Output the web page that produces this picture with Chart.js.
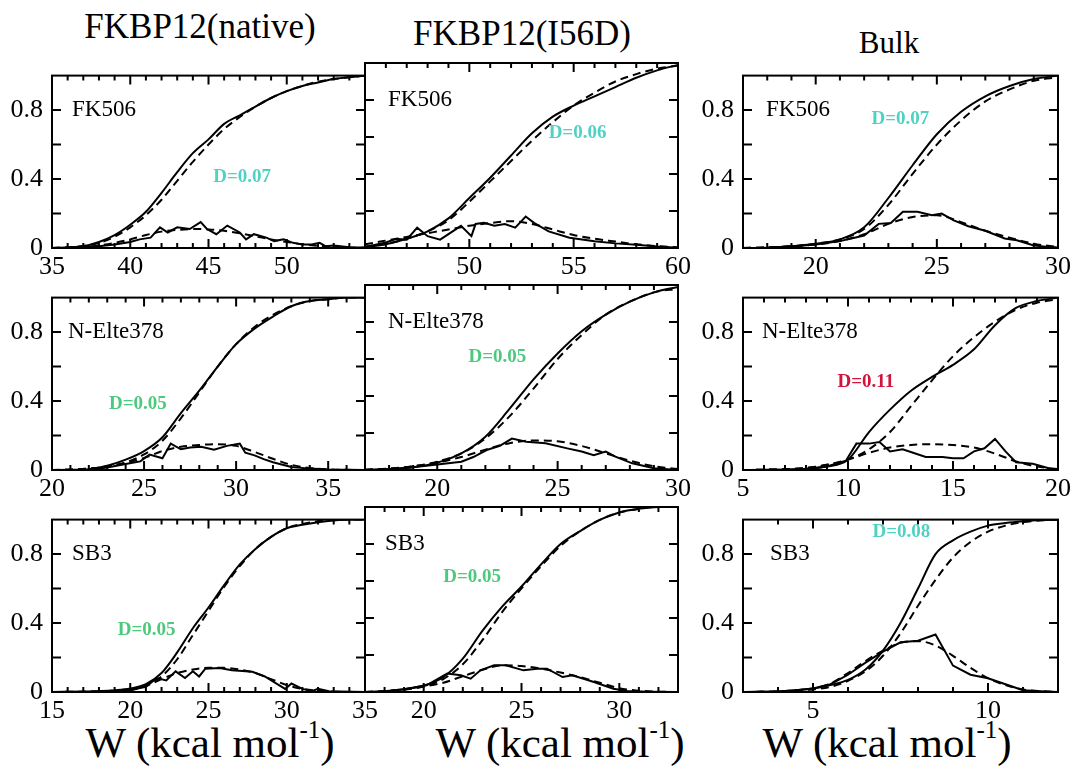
<!DOCTYPE html>
<html>
<head>
<meta charset="utf-8">
<script src="https://cdn.jsdelivr.net/npm/chart.js@4.4.0/dist/chart.umd.min.js"></script>
<style>
  body { margin: 0; width: 1070px; height: 769px; overflow: hidden; position: relative; background: #fff; }
  canvas { position: absolute; }
  .lbl { position: absolute; width: 400px; text-align: center; font-family: "Liberation Serif", "Times New Roman", serif; color: #000; white-space: nowrap; }
  .lbl sup { font-size: 58%; vertical-align: 0; position: relative; top: -0.75em; }
</style>
</head>
<body>
<div class="lbl" style="left:0px; top:9px; font-size:35px; line-height:35px;">FKBP12(native)</div>
<div class="lbl" style="left:322px; top:16px; font-size:35px; line-height:35px;">FKBP12(I56D)</div>
<div class="lbl" style="left:689px; top:27px; font-size:31px; line-height:31px;">Bulk</div>
<div class="lbl" style="left:10px; top:721px; font-size:43px; line-height:43px;">W (kcal mol<sup>-1</sup>)</div>
<div class="lbl" style="left:360px; top:721px; font-size:43px; line-height:43px;">W (kcal mol<sup>-1</sup>)</div>
<div class="lbl" style="left:687px; top:721px; font-size:43px; line-height:43px;">W (kcal mol<sup>-1</sup>)</div>
<script>
// --------------------------------------
// 1. Data
// --------------------------------------
// y axis labels shared by every panel
const yTickLabels = [0, 0.4, 0.8];

// FKBP12(native) - FK506
const natFkX = [35, 36, 37, 38, 39, 40, 41, 42, 43, 44, 45, 46, 47, 48, 49, 50, 51, 52, 53, 54, 55];
const natFkCdf = [0, 0.003, 0.01, 0.035, 0.075, 0.135, 0.21, 0.32, 0.44, 0.55, 0.63, 0.72, 0.77, 0.82, 0.87, 0.91, 0.94, 0.96, 0.98, 0.99, 1.0];
const natFkCdfFit = [0, 0.004, 0.012, 0.03, 0.065, 0.12, 0.19, 0.28, 0.39, 0.50, 0.60, 0.69, 0.76, 0.82, 0.87, 0.91, 0.94, 0.965, 0.98, 0.99, 1.0];
const natFkPdfFit = [0, 0.002, 0.005, 0.015, 0.03, 0.05, 0.075, 0.095, 0.105, 0.11, 0.108, 0.10, 0.085, 0.068, 0.05, 0.035, 0.022, 0.013, 0.007, 0.003, 0.001];
const natFkHistX = [35, 36, 37, 38, 39, 40, 40.6, 41.3, 41.9, 42.4, 43, 43.8, 44.5, 44.9, 45.5, 46.2, 47, 47.4, 47.9, 48.7, 49.2, 49.8, 50.4, 51, 51.6, 52.1, 52.5, 53, 54, 55];
const natFkHist = [0, 0.002, 0.005, 0.01, 0.02, 0.035, 0.05, 0.06, 0.12, 0.09, 0.12, 0.11, 0.15, 0.11, 0.08, 0.13, 0.09, 0.05, 0.08, 0.06, 0.04, 0.05, 0.03, 0.02, 0.02, 0.03, 0.01, 0.015, 0.005, 0.003];
const natFkTicks = [35, 40, 45, 50];

// FKBP12(I56D) - FK506
const mutFkX = [45, 46, 47, 48, 49, 50, 51, 52, 53, 54, 55, 56, 57, 58, 59, 60];
const mutFkCdf = [0.005, 0.02, 0.05, 0.09, 0.16, 0.27, 0.38, 0.50, 0.62, 0.71, 0.77, 0.82, 0.87, 0.92, 0.96, 0.99];
const mutFkCdfFit = [0.008, 0.022, 0.05, 0.09, 0.15, 0.25, 0.36, 0.47, 0.58, 0.68, 0.77, 0.84, 0.90, 0.94, 0.97, 0.985];
const mutFkPdfFit = [0.02, 0.04, 0.06, 0.08, 0.10, 0.12, 0.135, 0.145, 0.13, 0.10, 0.07, 0.05, 0.035, 0.02, 0.01, 0.004];
const mutFkHistX = [45, 46, 46.5, 47, 47.5, 48, 48.6, 49.6, 50.1, 50.3, 50.7, 51.2, 51.7, 52.2, 52.7, 53.1, 53.8, 54.8, 56, 57, 58, 59, 60];
const mutFkHist = [0.005, 0.03, 0.05, 0.045, 0.11, 0.064, 0.045, 0.12, 0.064, 0.13, 0.136, 0.12, 0.13, 0.11, 0.17, 0.136, 0.09, 0.055, 0.036, 0.025, 0.018, 0.008, 0.002];
const mutFkTicks = [50, 55, 60];

// Bulk - FK506
const bulkFkX = [17, 18, 19, 20, 21, 22, 23, 24, 25, 26, 27, 28, 29, 30];
const bulkFkCdf = [0, 0.002, 0.01, 0.025, 0.05, 0.12, 0.29, 0.48, 0.66, 0.79, 0.88, 0.94, 0.98, 1.0];
const bulkFkCdfFit = [0, 0.003, 0.01, 0.025, 0.05, 0.11, 0.25, 0.43, 0.60, 0.74, 0.85, 0.92, 0.97, 0.99];
const bulkFkPdfFit = [0, 0.003, 0.01, 0.02, 0.04, 0.08, 0.14, 0.18, 0.19, 0.15, 0.10, 0.06, 0.025, 0.005];
const bulkFkHistX = [17, 18, 19, 20, 21, 22, 22.6, 23.1, 23.6, 24.2, 24.8, 25.2, 25.7, 26.3, 27, 27.8, 28.3, 29, 29.5, 30];
const bulkFkHist = [0, 0.002, 0.008, 0.02, 0.04, 0.072, 0.14, 0.145, 0.21, 0.21, 0.19, 0.20, 0.16, 0.126, 0.10, 0.055, 0.045, 0.015, 0.008, 0.003];
const bulkFkTicks = [20, 25, 30];

// FKBP12(native) - N-Elte378
const natNeX = [20, 21, 22, 23, 24, 25, 26, 27, 28, 29, 30, 31, 32, 33, 34, 35, 36, 37];
const natNeCdf = [0, 0.001, 0.005, 0.025, 0.06, 0.11, 0.19, 0.33, 0.46, 0.60, 0.73, 0.82, 0.89, 0.95, 0.98, 0.99, 1.0, 1.0];
const natNeCdfFit = [0, 0.002, 0.008, 0.02, 0.045, 0.09, 0.17, 0.30, 0.45, 0.60, 0.73, 0.83, 0.90, 0.95, 0.98, 0.99, 1.0, 1.0];
const natNePdfFit = [0, 0.003, 0.008, 0.02, 0.04, 0.07, 0.11, 0.135, 0.145, 0.15, 0.14, 0.105, 0.065, 0.03, 0.012, 0.004, 0.001, 0];
const natNeHistX = [20, 22, 23, 24, 24.8, 25.3, 26, 26.45, 27, 27.5, 28.1, 28.8, 29.5, 30.2, 30.5, 31, 31.5, 32, 33, 34, 35, 37];
const natNeHist = [0, 0.002, 0.015, 0.035, 0.05, 0.09, 0.068, 0.153, 0.12, 0.13, 0.135, 0.117, 0.14, 0.153, 0.10, 0.085, 0.063, 0.045, 0.018, 0.008, 0.003, 0];
const natNeTicks = [20, 25, 30, 35];

// FKBP12(I56D) - N-Elte378
const mutNeX = [17, 18, 19, 20, 21, 22, 23, 24, 25, 26, 27, 28, 29, 30];
const mutNeCdf = [0, 0.005, 0.015, 0.04, 0.09, 0.18, 0.33, 0.49, 0.63, 0.75, 0.84, 0.91, 0.96, 0.99];
const mutNeCdfFit = [0.002, 0.007, 0.02, 0.045, 0.09, 0.17, 0.29, 0.44, 0.60, 0.73, 0.84, 0.91, 0.96, 0.98];
const mutNePdfFit = [0.002, 0.008, 0.02, 0.04, 0.07, 0.11, 0.145, 0.16, 0.155, 0.13, 0.09, 0.05, 0.02, 0.006];
const mutNeHistX = [17, 18, 19, 20, 21, 21.5, 22.05, 22.6, 23.1, 23.7, 24.5, 25.4, 26, 26.5, 27, 27.4, 28.1, 29, 30];
const mutNeHist = [0, 0.004, 0.015, 0.03, 0.045, 0.07, 0.108, 0.13, 0.17, 0.153, 0.144, 0.117, 0.10, 0.08, 0.10, 0.072, 0.036, 0.01, 0];
const mutNeTicks = [20, 25, 30];

// Bulk - N-Elte378
const bulkNeX = [5, 6, 7, 8, 9, 10, 11, 12, 13, 14, 15, 16, 17, 18, 19, 20];
const bulkNeCdf = [0, 0.001, 0.003, 0.007, 0.02, 0.06, 0.22, 0.35, 0.46, 0.54, 0.61, 0.70, 0.84, 0.94, 0.98, 1.0];
const bulkNeCdfFit = [0, 0.002, 0.005, 0.012, 0.03, 0.06, 0.12, 0.22, 0.37, 0.52, 0.66, 0.77, 0.86, 0.93, 0.97, 0.99];
const bulkNePdfFit = [0, 0.002, 0.005, 0.012, 0.03, 0.06, 0.10, 0.13, 0.145, 0.15, 0.145, 0.13, 0.095, 0.05, 0.02, 0.005];
const bulkNeHistX = [5, 7, 8, 9, 9.9, 10.4, 11, 11.5, 12, 12.6, 13.1, 13.7, 14.5, 15, 15.5, 16, 16.5, 17, 17.5, 18, 18.8, 19.6, 20];
const bulkNeHist = [0, 0.002, 0.006, 0.02, 0.054, 0.153, 0.153, 0.162, 0.108, 0.12, 0.10, 0.076, 0.076, 0.068, 0.068, 0.108, 0.126, 0.18, 0.108, 0.045, 0.036, 0.009, 0.003];
const bulkNeTicks = [5, 10, 15, 20];

// FKBP12(native) - SB3
const natSbX = [15, 16, 17, 18, 19, 20, 21, 22, 23, 24, 25, 26, 27, 28, 29, 30, 31, 32, 33, 34, 35];
const natSbCdf = [0, 0.001, 0.002, 0.005, 0.01, 0.02, 0.045, 0.11, 0.23, 0.37, 0.49, 0.62, 0.74, 0.83, 0.90, 0.95, 0.97, 0.985, 0.995, 1.0, 1.0];
const natSbCdfFit = [0, 0.001, 0.002, 0.003, 0.008, 0.018, 0.04, 0.09, 0.19, 0.33, 0.47, 0.61, 0.73, 0.83, 0.90, 0.95, 0.975, 0.99, 1.0, 1.0, 1.0];
const natSbPdfFit = [0, 0, 0.001, 0.002, 0.004, 0.01, 0.035, 0.075, 0.11, 0.13, 0.14, 0.14, 0.13, 0.11, 0.075, 0.04, 0.018, 0.007, 0.002, 0, 0];
const natSbHistX = [15, 19, 20, 21, 21.7, 22.3, 22.9, 23.5, 24, 24.4, 24.8, 25.7, 26.5, 27.8, 28.6, 29.5, 29.9, 30.3, 31, 31.6, 32, 32.7, 35];
const natSbHist = [0, 0.003, 0.012, 0.03, 0.081, 0.067, 0.12, 0.081, 0.12, 0.09, 0.135, 0.139, 0.126, 0.117, 0.09, 0.04, 0.018, 0.049, 0.018, 0.005, 0.018, 0.004, 0];
const natSbTicks = [15, 20, 25, 30, 35];

// FKBP12(I56D) - SB3
const mutSbX = [17, 18, 19, 20, 21, 22, 23, 24, 25, 26, 27, 28, 29, 30, 31, 32, 33];
const mutSbCdf = [0, 0.003, 0.015, 0.035, 0.08, 0.18, 0.33, 0.46, 0.57, 0.69, 0.80, 0.87, 0.93, 0.97, 0.99, 1.0, 1.0];
const mutSbCdfFit = [0, 0.004, 0.012, 0.03, 0.07, 0.15, 0.28, 0.43, 0.56, 0.68, 0.79, 0.87, 0.93, 0.97, 0.99, 1.0, 1.0];
const mutSbPdfFit = [0, 0.005, 0.015, 0.03, 0.05, 0.085, 0.12, 0.144, 0.14, 0.126, 0.105, 0.08, 0.05, 0.02, 0.007, 0.002, 0];
const mutSbHistX = [17, 18, 19, 20.15, 21.2, 21.9, 22.4, 22.9, 23.6, 24.2, 25.1, 25.8, 26.3, 27.1, 27.6, 28.7, 29.7, 30.4, 31.5, 33];
const mutSbHist = [0, 0.004, 0.015, 0.036, 0.10, 0.09, 0.072, 0.117, 0.144, 0.144, 0.117, 0.126, 0.126, 0.081, 0.09, 0.054, 0.018, 0.005, 0.002, 0];
const mutSbTicks = [20, 25, 30];

// Bulk - SB3
const bulkSbX = [3, 3.5, 4, 4.5, 5, 5.5, 6, 6.5, 7, 7.5, 8, 8.5, 9, 9.5, 10, 10.5, 11, 11.5, 12];
const bulkSbCdf = [0, 0.001, 0.003, 0.01, 0.02, 0.04, 0.07, 0.13, 0.24, 0.40, 0.60, 0.80, 0.88, 0.93, 0.965, 0.98, 0.99, 0.997, 1.0];
const bulkSbCdfFit = [0, 0.001, 0.003, 0.008, 0.015, 0.03, 0.065, 0.12, 0.21, 0.34, 0.50, 0.65, 0.78, 0.87, 0.93, 0.965, 0.985, 0.995, 1.0];
const bulkSbPdfFit = [0, 0.001, 0.003, 0.01, 0.02, 0.05, 0.11, 0.18, 0.24, 0.285, 0.295, 0.27, 0.21, 0.14, 0.08, 0.04, 0.015, 0.005, 0.001];
const bulkSbHist = [0, 0.001, 0.003, 0.01, 0.02, 0.045, 0.10, 0.17, 0.234, 0.288, 0.297, 0.333, 0.153, 0.10, 0.08, 0.045, 0.01, 0.004, 0];
const bulkSbTicks = [5, 10];

// --------------------------------------
// 2. Panel layout
// --------------------------------------
const COLS = [
    { left: 52, width: 313, padL: 52, showY: true },
    { left: 365, width: 313, padL: 10, showY: false },
    { left: 743, width: 315, padL: 60, showY: true }
];
const ROW_TOPS = [63, 285, 507];
const PLOT_H = 185, PAD_T = 12, PAD_B = 45, PAD_R = 30;

const TEAL = '#4ed2c4', GREEN = '#4cc97c', RED = '#d0143c';

const panels = [
    { row: 0, col: 0, min: 35, max: 55, ticks: natFkTicks, name: 'FK506', d: 'D=0.07', dColor: TEAL, dx: 45.3, dy: 0.41, lx: 20,
      x: natFkX, cdf: natFkCdf, cdfFit: natFkCdfFit, pdfFit: natFkPdfFit, histX: natFkHistX, hist: natFkHist },
    { row: 0, col: 1, min: 45, max: 60, ticks: mutFkTicks, name: 'FK506', d: 'D=0.06', dColor: TEAL, dx: 53.8, dy: 0.62, lx: 23,
      x: mutFkX, cdf: mutFkCdf, cdfFit: mutFkCdfFit, pdfFit: mutFkPdfFit, histX: mutFkHistX, hist: mutFkHist },
    { row: 0, col: 2, min: 17, max: 30, ticks: bulkFkTicks, name: 'FK506', d: 'D=0.07', dColor: TEAL, dx: 22.3, dy: 0.75, lx: 23,
      x: bulkFkX, cdf: bulkFkCdf, cdfFit: bulkFkCdfFit, pdfFit: bulkFkPdfFit, histX: bulkFkHistX, hist: bulkFkHist },
    { row: 1, col: 0, min: 20, max: 37, ticks: natNeTicks, name: 'N-Elte378', d: 'D=0.05', dColor: GREEN, dx: 23.1, dy: 0.38, lx: 16,
      x: natNeX, cdf: natNeCdf, cdfFit: natNeCdfFit, pdfFit: natNePdfFit, histX: natNeHistX, hist: natNeHist },
    { row: 1, col: 1, min: 17, max: 30, ticks: mutNeTicks, name: 'N-Elte378', d: 'D=0.05', dColor: GREEN, dx: 21.3, dy: 0.61, lx: 23,
      x: mutNeX, cdf: mutNeCdf, cdfFit: mutNeCdfFit, pdfFit: mutNePdfFit, histX: mutNeHistX, hist: mutNeHist },
    { row: 1, col: 2, min: 5, max: 20, ticks: bulkNeTicks, name: 'N-Elte378', d: 'D=0.11', dColor: RED, dx: 9.5, dy: 0.51, lx: 19,
      x: bulkNeX, cdf: bulkNeCdf, cdfFit: bulkNeCdfFit, pdfFit: bulkNePdfFit, histX: bulkNeHistX, hist: bulkNeHist },
    { row: 2, col: 0, min: 15, max: 35, ticks: natSbTicks, name: 'SB3', d: 'D=0.05', dColor: GREEN, dx: 19.2, dy: 0.36, lx: 20,
      x: natSbX, cdf: natSbCdf, cdfFit: natSbCdfFit, pdfFit: natSbPdfFit, histX: natSbHistX, hist: natSbHist },
    { row: 2, col: 1, min: 17, max: 33, ticks: mutSbTicks, name: 'SB3', d: 'D=0.05', dColor: GREEN, dx: 21.0, dy: 0.62, lx: 20,
      x: mutSbX, cdf: mutSbCdf, cdfFit: mutSbCdfFit, pdfFit: mutSbPdfFit, histX: mutSbHistX, hist: mutSbHist },
    { row: 2, col: 2, min: 3, max: 12, ticks: bulkSbTicks, name: 'SB3', d: 'D=0.08', dColor: TEAL, dx: 6.7, dy: 0.93, lx: 27,
      x: bulkSbX, cdf: bulkSbCdf, cdfFit: bulkSbCdfFit, pdfFit: bulkSbPdfFit, histX: bulkSbX, hist: bulkSbHist }
];

// --------------------------------------
// 3. Helpers
// --------------------------------------
function pts(xs, ys) {
    return xs.map((x, i) => ({ x: x, y: ys[i] }));
}

// frame, inward ticks on all four sides, and the in-panel texts
function makeFramePlugin(p) {
    return {
        id: 'frame',
        afterDraw(chart) {
            const ctx = chart.ctx, a = chart.chartArea;
            const xs = chart.scales.x, ys = chart.scales.y;
            ctx.save();
            ctx.strokeStyle = '#000';
            ctx.lineWidth = 2;
            ctx.beginPath();
            for (let v = Math.ceil(xs.min); v <= Math.floor(xs.max); v++) {
                if (v === xs.min || v === xs.max) continue;
                const len = v % 5 === 0 ? 9 : 5;
                const px = xs.getPixelForValue(v);
                ctx.moveTo(px, a.bottom); ctx.lineTo(px, a.bottom - len);
                ctx.moveTo(px, a.top); ctx.lineTo(px, a.top + len);
            }
            for (let i = 1; i < 5; i++) {
                const py = ys.getPixelForValue(i * 0.2);
                ctx.moveTo(a.left, py); ctx.lineTo(a.left + 9, py);
                ctx.moveTo(a.right, py); ctx.lineTo(a.right - 9, py);
            }
            ctx.stroke();
            ctx.strokeRect(a.left, a.top, a.right - a.left, a.bottom - a.top);

            ctx.textBaseline = 'middle';
            ctx.textAlign = 'left';
            ctx.fillStyle = '#000';
            ctx.font = '23px "Liberation Serif", "Times New Roman", serif';
            ctx.fillText(p.name, a.left + p.lx, ys.getPixelForValue(0.8));
            ctx.fillStyle = p.dColor;
            ctx.font = 'bold 19px "Liberation Serif", "Times New Roman", serif';
            ctx.fillText(p.d, xs.getPixelForValue(p.dx), ys.getPixelForValue(p.dy));
            ctx.restore();
        }
    };
}

// --------------------------------------
// 4. Build charts
// --------------------------------------
const tickFont = { family: '"Liberation Serif", "Times New Roman", serif', size: 26 };

panels.forEach(p => {
    const col = COLS[p.col];
    const canvas = document.createElement('canvas');
    const w = col.padL + col.width + PAD_R, h = PAD_T + PLOT_H + PAD_B;
    canvas.width = w; canvas.height = h;
    canvas.style.width = w + 'px'; canvas.style.height = h + 'px';
    canvas.style.left = (col.left - col.padL) + 'px';
    canvas.style.top = (ROW_TOPS[p.row] - PAD_T) + 'px';
    document.body.appendChild(canvas);

    const solid = { borderColor: '#000', borderWidth: 2, pointRadius: 0, fill: false };
    const dashed = { borderColor: '#000', borderWidth: 2, pointRadius: 0, fill: false, borderDash: [8, 5] };

    new Chart(canvas.getContext('2d'), {
        type: 'line',
        data: {
            datasets: [
                { ...solid, data: pts(p.x, p.cdf), cubicInterpolationMode: 'monotone' },
                { ...dashed, data: pts(p.x, p.cdfFit), cubicInterpolationMode: 'monotone' },
                { ...solid, data: pts(p.histX, p.hist), tension: 0 },
                { ...dashed, data: pts(p.x, p.pdfFit), cubicInterpolationMode: 'monotone' }
            ]
        },
        options: {
            responsive: false,
            animation: false,
            layout: { padding: { left: 0, top: PAD_T, right: PAD_R, bottom: 0 } },
            plugins: { legend: { display: false }, tooltip: { enabled: false } },
            scales: {
                x: {
                    type: 'linear', min: p.min, max: p.max,
                    grid: { display: false, drawTicks: false },
                    border: { display: false },
                    afterBuildTicks: s => { s.ticks = p.ticks.map(v => ({ value: v })); },
                    afterFit: s => { s.height = PAD_B; },
                    ticks: { font: tickFont, color: '#000', padding: 4, maxRotation: 0, autoSkip: false, callback: v => String(v) }
                },
                y: {
                    min: 0, max: 1,
                    grid: { display: false, drawTicks: false },
                    border: { display: false },
                    afterBuildTicks: s => { s.ticks = yTickLabels.map(v => ({ value: v })); },
                    afterFit: s => { s.width = col.padL; },
                    ticks: { display: col.showY, font: tickFont, color: '#000', padding: 9, callback: v => String(v) }
                }
            }
        },
        plugins: [makeFramePlugin(p)]
    });
});
</script>
</body>
</html>
